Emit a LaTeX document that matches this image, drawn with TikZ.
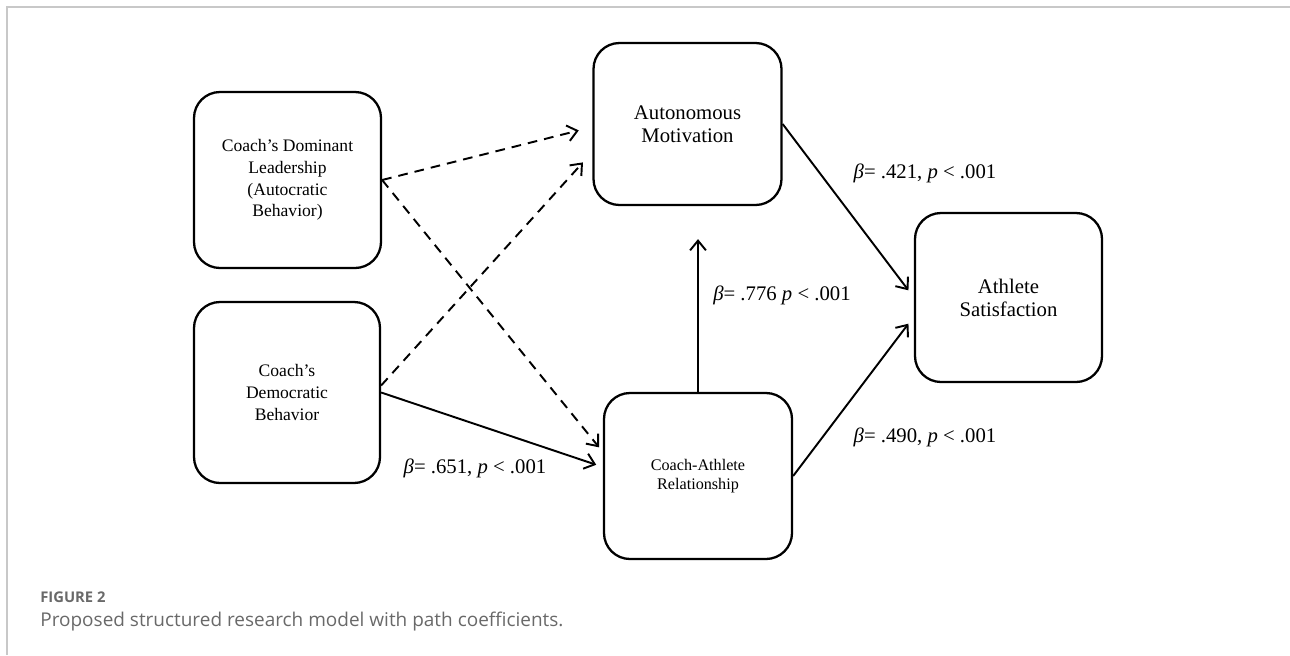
\documentclass[tikz,border=0pt]{standalone}
\usepackage{fontspec}
\setmainfont{Liberation Serif}
\newfontfamily\capfont{Open Sans}
\usetikzlibrary{arrows.meta}
\definecolor{framegray}{RGB}{200,200,200}
\definecolor{capgray}{RGB}{105,105,105}
\begin{document}
\begin{tikzpicture}[
	>={Straight Barb[length=5.5pt,width=9pt]},
	box/.style={draw,line width=1.3pt,rounded corners=0.52cm,align=center,inner sep=2pt},
	small/.style={font=\fontsize{10}{12.3}\selectfont},
	big/.style={font=\fontsize{11.8}{13}\selectfont},
	coef/.style={font=\fontsize{11.8}{13}\selectfont},
	path/.style={line width=1.1pt},
	dashpath/.style={line width=1.1pt,dash pattern=on 5.5pt off 4pt}
	]
	\useasboundingbox (0,0) rectangle (25.8,-13.1);
	\draw[framegray,line width=1pt] (0.14,-13.1) -- (0.14,-0.14) -- (25.8,-0.14);
	\node at (5.75,-3.6) (dom) [box,small,minimum width=3.74cm,minimum height=3.52cm] {Coach’s Dominant\\Leadership\\(Autocratic\\Behavior)};
	\node at (5.74,-7.85) (dem) [box,small,minimum width=3.72cm,minimum height=3.62cm] {Coach’s\\Democratic\\Behavior};
	\node at (13.75,-2.48) (mot) [box,big,minimum width=3.76cm,minimum height=3.24cm] {Autonomous\\Motivation};
	\node at (13.96,-9.52) (rel) [box,font=\fontsize{9.2}{10.8}\selectfont,minimum width=3.76cm,minimum height=3.32cm] {Coach-Athlete\\Relationship};
	\node at (20.17,-5.95) (sat) [box,big,minimum width=3.74cm,minimum height=3.38cm] {Athlete\\Satisfaction};
	\draw[dashpath,->,shorten >=0.28cm] (dom.east) -- ([yshift=-0.06cm]mot.west);
	\draw[dashpath,->,shorten >=0.12cm] (dom.east) -- ([yshift=0.48cm]rel.west);
	\draw[dashpath,->,shorten >=0.28cm] ([yshift=0.14cm]dem.east) -- ([yshift=-0.56cm]mot.west);
	\draw[path,->,shorten >=0.14cm] (dem.east) -- ([yshift=0.18cm]rel.west);
	\draw[path,->,shorten >=0.66cm] (rel.north) -- (rel.north |- mot.south);
	\draw[path,->,shorten >=0.18cm] (mot.east) -- (sat.west);
	\draw[path,->,shorten >=0.18cm] (rel.east) -- ([yshift=-0.38cm]sat.west);
	\node at (18.5,-3.46) (c421) [coef] {\textit{β}= .421, \textit{p} < .001};
	\node at (15.64,-5.9) (c776) [coef] {\textit{β}= .776 \textit{p} < .001};
	\node at (18.5,-8.74) (c490) [coef] {\textit{β}= .490, \textit{p} < .001};
	\node at (9.5,-9.36) (c651) [coef] {\textit{β}= .651, \textit{p} < .001};
	\node at (0.8,-11.94) (fig) [anchor=west,inner sep=0pt,capgray,font=\capfont\bfseries\fontsize{8.4}{10}\selectfont] {FIGURE 2};
	\node at (0.8,-12.44) (cap) [anchor=west,inner sep=0pt,capgray,font=\capfont\fontsize{10.8}{13}\selectfont] {Proposed structured research model with path coefficients.};
\end{tikzpicture}
\end{document}
